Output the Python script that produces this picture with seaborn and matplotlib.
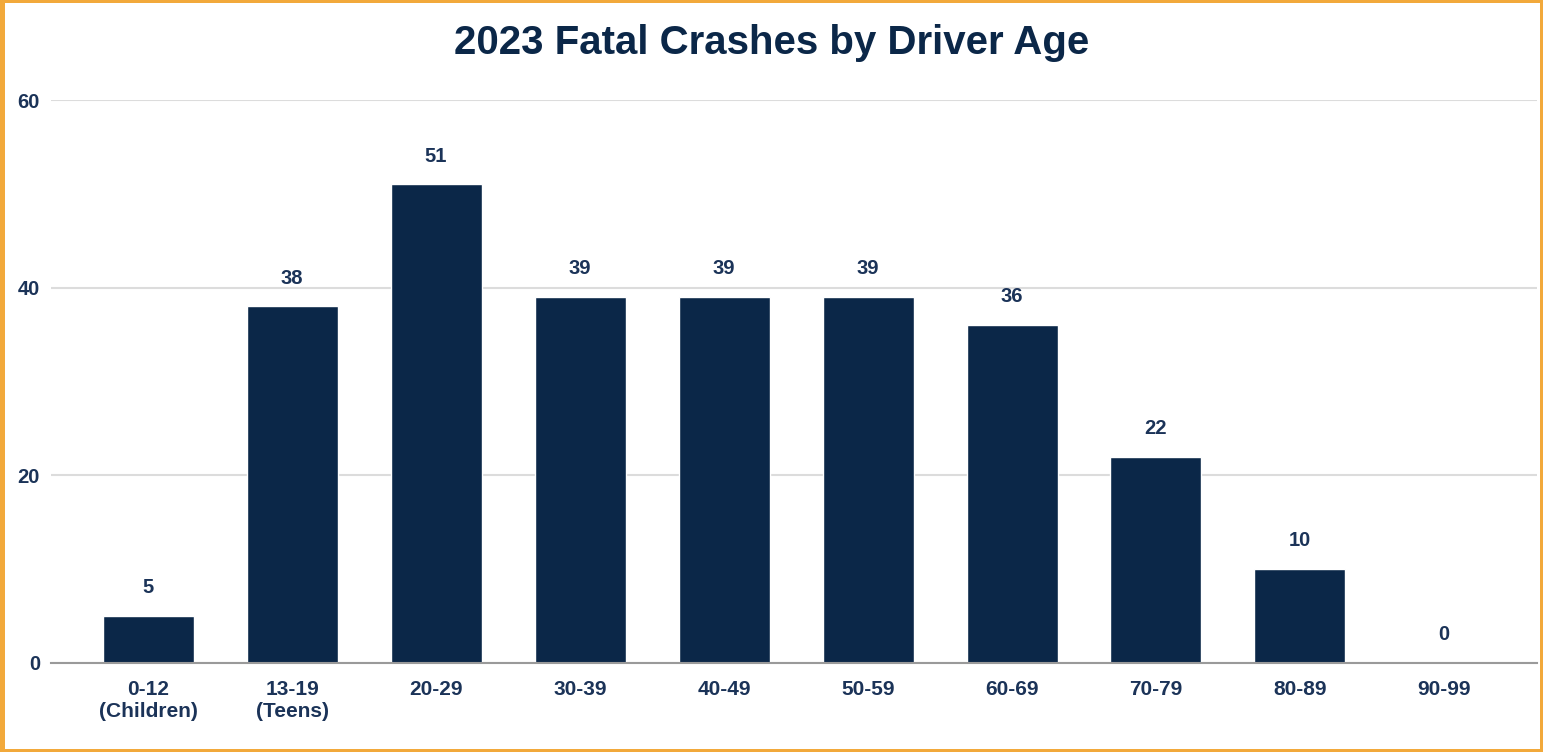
import numpy as np
import pandas as pd
import seaborn as sns
import matplotlib.pyplot as plt
from matplotlib.patches import Rectangle

# data
age_groups = ['0-12\n(Children)', '13-19\n(Teens)', '20-29', '30-39', '40-49',
              '50-59', '60-69', '70-79', '80-89', '90-99']
fatal_crashes = [5, 38, 51, 39, 39, 39, 36, 22, 10, 0]
y_ticks = [0, 20, 40, 60]

navy = '#0b2748'
text_col = '#1b3358'
orange = '#f2a93b'

df = pd.DataFrame({'age': age_groups, 'crashes': fatal_crashes})

sns.set_style('white')
plt.rcParams['font.family'] = ['Liberation Sans', 'DejaVu Sans']

W, H = 1543, 752
fig = plt.figure(figsize=(W / 100, H / 100), dpi=100, facecolor=orange)
# white card inside the orange frame
fig.patches.append(Rectangle((5 / W, 3 / H), 1 - 8 / W, 1 - 6 / H,
                             transform=fig.transFigure, facecolor='white',
                             edgecolor='none', zorder=-1))

ax = fig.add_axes([51 / W, 1 - 663 / H, (1537 - 51) / W, (663 - 100) / H])
ax.set_facecolor('none')

sns.barplot(data=df, x='age', y='crashes', color=navy, width=0.632,
            saturation=1, ax=ax, zorder=3)

ax.set_xlim(-0.674, 9.646)
ax.set_ylim(0, 60)
ax.set_yticks(y_ticks)
ax.yaxis.grid(True, color='#dcdcdc', linewidth=1.5, zorder=0)
ax.set_axisbelow(True)
for s in ['top', 'right', 'left']:
    ax.spines[s].set_visible(False)
ax.spines['bottom'].set_color('#9a9a9a')
ax.spines['bottom'].set_linewidth(1.5)
ax.spines['bottom'].set_zorder(4)

ax.tick_params(axis='x', length=0, pad=12, labelsize=15, labelcolor=text_col)
ax.tick_params(axis='y', length=0, pad=8, labelsize=14.5, labelcolor=text_col)
for lbl in ax.get_xticklabels():
    lbl.set_fontweight('bold')
    lbl.set_linespacing(1.2)
for lbl in ax.get_yticklabels():
    lbl.set_fontweight('bold')
ax.set_xlabel('')
ax.set_ylabel('')

for i, v in enumerate(fatal_crashes):
    ax.annotate(str(v), (i, v), xytext=(0, 13.5), textcoords='offset points',
                ha='center', va='bottom', fontsize=14.5, fontweight='bold',
                color=text_col)

fig.text(772 / W, 1 - 54 / H, '2023 Fatal Crashes by Driver Age',
         ha='center', va='baseline', fontsize=29, fontweight='bold', color=navy)

fig.savefig('out.png', dpi=100, facecolor=orange)
